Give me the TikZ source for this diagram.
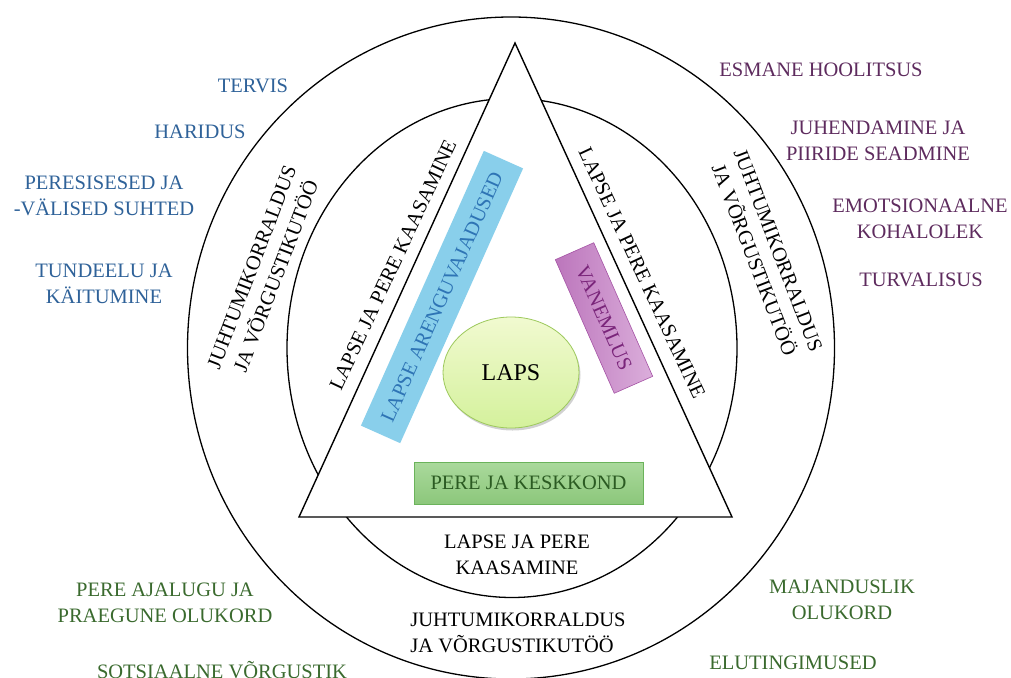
\documentclass[tikz,border=0pt]{standalone}
\usepackage{fontspec}
\setmainfont{Liberation Serif}
\usetikzlibrary{shadows,shapes.geometric}
\definecolor{blueTxt}{HTML}{2F6299}
\definecolor{purpTxt}{HTML}{5E2B5E}
\definecolor{greenTxt}{HTML}{3A6A2E}
\definecolor{skyFill}{HTML}{89CFEB}
\definecolor{skyTxt}{HTML}{2E74B5}
\definecolor{vanTxt}{HTML}{7A257A}
\definecolor{vanL}{HTML}{BC76BC}
\definecolor{vanR}{HTML}{DBAEDB}
\definecolor{vanB}{HTML}{A553A5}
\definecolor{lapsT}{HTML}{F1FAD0}
\definecolor{lapsB}{HTML}{D4F19C}
\definecolor{lapsD}{HTML}{9DC95C}
\definecolor{pkT}{HTML}{AAD99C}
\definecolor{pkB}{HTML}{8CC77B}
\definecolor{pkD}{HTML}{6BB35B}
\definecolor{pkTxt}{HTML}{2B5B22}
\begin{document}
\begin{tikzpicture}[x=1pt,y=-1pt,
  lbl/.style={font=\fontsize{20.5}{26}\selectfont, align=center, inner sep=0pt},
  blacklbl/.style={lbl, text=black},
  outerlbl/.style={lbl, text=blueTxt},
  purplbl/.style={lbl, text=purpTxt},
  greenlbl/.style={lbl, text=greenTxt},
  ringline/.style={draw=black, line width=1.3pt},
  rotbox/.style={font=\fontsize{20.5}{26}\selectfont, inner sep=0pt, anchor=center}
]
\useasboundingbox (0,0) rectangle (1011,677);
\fill[white] (0,0) rectangle (1011,677);

% rings
\node[ringline, ellipse, minimum width=647pt, minimum height=662pt, inner sep=0pt] (outer) at (511,348) {};
\node[ringline, ellipse, minimum width=450pt, minimum height=499pt, inner sep=0pt] (inner) at (512,348) {};

% triangle
\coordinate (apex) at (515,43);
\coordinate (bl) at (299,517);
\coordinate (br) at (732,517);
\draw[fill=white, line width=1.4pt] (apex) -- (bl) -- (br) -- cycle;

% boxes
\node[rotbox, fill=skyFill, text=skyTxt, minimum width=301pt, minimum height=43pt, rotate=65.9]
  (needs) at (442,297) {LAPSE ARENGUVAJADUSED};
\node[rotbox, left color=vanL, right color=vanR, draw=vanB, line width=0.6pt, text=vanTxt,
  minimum width=146pt, minimum height=42pt, rotate=-66.2]
  (parent) at (604,318) {VANEMLUS};
\node[ellipse, top color=lapsT, bottom color=lapsB, draw=lapsD, line width=0.8pt,
  minimum width=136pt, minimum height=111pt, inner sep=0pt,
  drop shadow={shadow xshift=1.5pt, shadow yshift=-2.5pt, fill=black, opacity=0.18},
  font=\fontsize{24}{28}\selectfont] (laps) at (511,372.5) {LAPS};
\node[rotbox, top color=pkT, bottom color=pkB, draw=pkD, line width=0.8pt, text=pkTxt,
  minimum width=229pt, minimum height=42pt] (env) at (528.5,483) {PERE JA KESKKOND};

% labels along triangle sides
\node[blacklbl, rotate=65] (sideL) at (393,265) {LAPSE JA PERE KAASAMINE};
\node[blacklbl, rotate=-65] (sideR) at (642,273) {LAPSE JA PERE KAASAMINE};
\node[blacklbl] (sideB) at (517,555) {LAPSE JA PERE\\KAASAMINE};

% case management labels
\node[blacklbl, rotate=69] (caseL) at (264,272) {JUHTUMIKORRALDUS\\JA VÕRGUSTIKUTÖÖ};
\node[blacklbl, rotate=-69] (caseR) at (766,255) {JUHTUMIKORRALDUS\\JA VÕRGUSTIKUTÖÖ};
\node[blacklbl, align=left] (caseB) at (518,633) {JUHTUMIKORRALDUS\\JA VÕRGUSTIKUTÖÖ};

% left (blue)
\node[outerlbl] (tervis) at (253,86) {TERVIS};
\node[outerlbl] (haridus) at (200,132) {HARIDUS};
\node[outerlbl] (suhted) at (104,196) {PERESISESED JA\\-VÄLISED SUHTED};
\node[outerlbl] (tundeelu) at (104,284) {TUNDEELU JA\\KÄITUMINE};

% right (purple)
\node[purplbl] (esmane) at (821,70) {ESMANE HOOLITSUS};
\node[purplbl] (juhend) at (878,141) {JUHENDAMINE JA\\PIIRIDE SEADMINE};
\node[purplbl] (emots) at (920,219) {EMOTSIONAALNE\\KOHALOLEK};
\node[purplbl] (turva) at (921,280) {TURVALISUS};

% bottom (green)
\node[greenlbl] (ajalugu) at (165,603) {PERE AJALUGU JA\\PRAEGUNE OLUKORD};
\node[greenlbl] (sots) at (222,670) {SOTSIAALNE VÕRGUSTIK};
\node[greenlbl] (majand) at (842,600) {MAJANDUSLIK\\OLUKORD};
\node[greenlbl] (elu) at (793,663) {ELUTINGIMUSED};
\end{tikzpicture}
\end{document}
